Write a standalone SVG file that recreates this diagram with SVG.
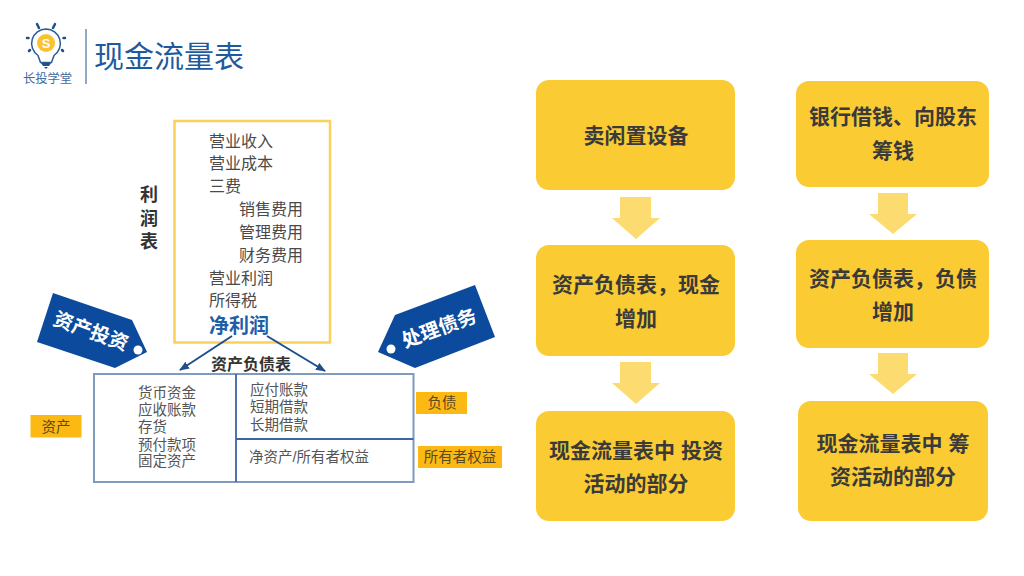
<svg xmlns="http://www.w3.org/2000/svg" width="1024" height="576" viewBox="0 0 1024 576">
<defs>
<marker id="ah" markerUnits="userSpaceOnUse" markerWidth="10" markerHeight="8" refX="9" refY="4" orient="auto"><path d="M0 0L10 4L0 8Z" fill="#1f4e8c"/></marker>
</defs>
<style>
text{font-family:"Liberation Sans","Noto Sans CJK SC",sans-serif}
.box{fill:#fbcb33}
.bt{font-size:21px;font-weight:700;fill:#3a3a3a;text-anchor:middle}
.down{fill:#fcdc70}
.it{font-size:16px;fill:#4a4a4a}
.bs{font-size:14.500px;fill:#555}
.tagbg{fill:#fdb913}
.tagt{font-size:14.500px;fill:#5a4a20;text-anchor:middle}
.tag{fill:#0b4a9c}
.tagl{font-size:19.500px;font-weight:700;fill:#fff;text-anchor:middle}
.li{stroke:#7f9bbd;stroke-width:2;fill:none}
</style>
<rect width="1024" height="576" fill="#fff"/>
<g id="logo">
<g stroke="#1f4e8c" stroke-width="2.500" stroke-linecap="round"><path d="M37 24L39 28M55 24L53 28M27 38H28.500M63.500 38H65M29 51L30 50M62 50L63 51"/></g>
<path d="M46 29a14.500 14.500 0 0 1 8 26.500l-2.500 7h-11l-2.500-7a14.500 14.500 0 0 1 8-26.500z" fill="#fff" stroke="#2b5c94" stroke-width="1.500"/>
<circle cx="46" cy="43" r="9" fill="#f9c22e"/>
<text x="46" y="48" font-size="13" fill="#fff" text-anchor="middle" font-weight="700">S</text>
<path d="M41 63H51L49 66H43ZM44 67H48L46 69Z" fill="#1f4e8c"/>
<text x="47.500" y="83" font-size="12.300" fill="#3c6a9e" text-anchor="middle">长投学堂</text>
</g>
<path id="title-rule" d="M86 29V84" stroke="#6d8cb0" stroke-width="1.500"/>
<text id="title" x="94" y="67" font-size="30" fill="#1f5a9e">现金流量表</text>
<g id="income">
<rect x="174.500" y="121" width="155.500" height="221.500" fill="#fff" stroke="#f8d25a" stroke-width="2.500"/>
<g class="it">
<text x="209" y="147">营业收入</text><text x="209" y="169">营业成本</text><text x="209" y="192">三费</text>
<text x="239" y="215">销售费用</text><text x="239" y="238">管理费用</text><text x="239" y="261">财务费用</text>
<text x="209" y="284">营业利润</text><text x="209" y="306">所得税</text></g>
<text x="209" y="333" font-size="20" font-weight="700" fill="#1f5fa8">净利润</text>
</g>
<g id="income-label" font-size="18" font-weight="700" fill="#333" text-anchor="middle">
<text x="149" y="201">利</text><text x="149" y="225">润</text><text x="149" y="248">表</text></g>
<g id="connectors">
<path d="M232 336L180 370" stroke="#1f4e8c" stroke-width="2" marker-end="url(#ah)"/>
<path d="M267 336L325 371" stroke="#1f4e8c" stroke-width="2" marker-end="url(#ah)"/>
</g>
<text id="bs-title" x="251" y="370" font-size="16" font-weight="700" fill="#333" text-anchor="middle">资产负债表</text>
<g id="balance">
<rect x="94" y="374" width="319.500" height="108" fill="#fff" class="li"/>
<path d="M236 374V482M236 439H413.500" stroke="#3f66a0" stroke-width="1.800" fill="none"/>
<g class="bs"><text x="138" y="398">货币资金</text><text x="138" y="415">应收账款</text><text x="138" y="432">存货</text><text x="138" y="450">预付款项</text><text x="138" y="466">固定资产</text>
<text x="250" y="395">应付账款</text><text x="250" y="412">短期借款</text><text x="250" y="430">长期借款</text><text x="249" y="462">净资产/所有者权益</text></g>
</g>
<g id="tag-assets"><rect x="30.500" y="415" width="51" height="22.500" class="tagbg"/><text x="56" y="432" class="tagt">资产</text></g>
<g id="tag-liab"><rect x="416" y="392" width="51" height="22" class="tagbg"/><text x="442" y="408" class="tagt">负债</text></g>
<g id="tag-equity"><rect x="418" y="446" width="84" height="22" class="tagbg"/><text x="460" y="462" class="tagt">所有者权益</text></g>
<g id="tag-invest"><path d="M53 293L132 320L147 352L115 368L37 342Z" class="tag"/><circle cx="138" cy="350" r="4.500" fill="#fff"/>
<text x="91" y="338" class="tagl" transform="rotate(20 91 331)">资产投资</text></g>
<g id="tag-debt"><path d="M395 315L475 285L495 337L415 368L378 352Z" class="tag"/><circle cx="391" cy="349" r="4.500" fill="#fff"/>
<text x="439" y="335" class="tagl" transform="rotate(-20 439 328)">处理债务</text></g>
<g id="a1"><rect x="536" y="80" width="199" height="110" rx="13" class="box"/><text x="636" y="143" class="bt">卖闲置设备</text></g>
<g id="a2"><rect x="536" y="245" width="199" height="111" rx="13" class="box"/><text x="636" y="292" class="bt">资产负债表，现金</text><text x="636" y="326" class="bt">增加</text></g>
<g id="a3"><rect x="536" y="411" width="199" height="110" rx="13" class="box"/><text x="636" y="458" class="bt">现金流量表中 投资</text><text x="636" y="491" class="bt">活动的部分</text></g>
<g id="b1"><rect x="796" y="81" width="193" height="106" rx="13" class="box"/><text x="893" y="124" class="bt">银行借钱、向股东</text><text x="893" y="158" class="bt">筹钱</text></g>
<g id="b2"><rect x="796" y="240" width="193" height="108" rx="13" class="box"/><text x="893" y="286" class="bt">资产负债表，负债</text><text x="893" y="319" class="bt">增加</text></g>
<g id="b3"><rect x="798" y="401" width="190" height="120" rx="13" class="box"/><text x="893" y="451" class="bt">现金流量表中 筹</text><text x="893" y="484" class="bt">资活动的部分</text></g>
<g id="arrows">
<path class="down" d="M620 197H651V218H660L636 239L612 218H620Z"/>
<path class="down" d="M620 362H651V383H660L636 404L612 383H620Z"/>
<path class="down" d="M878 193H908V214H917L893 234L869 214H878Z"/>
<path class="down" d="M878 353H908V374H917L893 394L869 374H878Z"/>
</g>
</svg>
